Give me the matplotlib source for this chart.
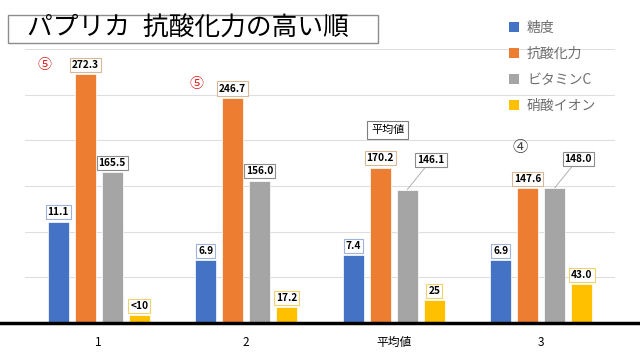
import matplotlib.pyplot as plt
from matplotlib.patches import Patch, Rectangle
import numpy as np

plt.rcParams['font.family'] = ['Noto Sans CJK JP', 'DejaVu Sans']

# ---- data (bar heights as drawn, plus the printed labels) ----
groups = ['1', '2', '平均値', '3']
series = ['糖度', '抗酸化力', 'ビタミンC', '硝酸イオン']
sugar = [111, 69, 74, 69]              # drawn at x10 scale in the original
antiox = [272.3, 246.7, 170.2, 147.6]
vitc = [165.5, 156.0, 146.1, 148.0]
nitrate = [9, 17.2, 25, 43.0]

sugar_lbl = ['11.1', '6.9', '7.4', '6.9']
antiox_lbl = ['272.3', '246.7', '170.2', '147.6']
vitc_lbl = ['165.5', '156.0', '146.1', '148.0']
nitrate_lbl = ['<10', '17.2', '25', '43.0']

colors = ['#4472C4', '#ED7D31', '#A5A5A5', '#FFC000']
box_edges = ['#9DB3D9', '#D9B896', '#8C8C8C', '#F2D36B']

# ---- figure ----
fig = plt.figure(figsize=(6.4, 3.6), dpi=100)
ax = fig.add_axes([25 / 640, 37 / 360, 590 / 640, 274 / 360])
ax.set_xlim(-0.5, 3.5)
ax.set_ylim(0, 300)

x = np.arange(len(groups))
pitch = 0.183
width = 0.143
all_vals = [sugar, antiox, vitc, nitrate]
all_lbls = [sugar_lbl, antiox_lbl, vitc_lbl, nitrate_lbl]

for k, (vals, lbls) in enumerate(zip(all_vals, all_lbls)):
    xs = x + (k - 1.5) * pitch
    ax.bar(xs, vals, width, color=colors[k], edgecolor='white', linewidth=0.5,
           label=series[k], zorder=2)
    for i, (xi, v, t) in enumerate(zip(xs, vals, lbls)):
        bbox = dict(boxstyle='square,pad=0.2', fc='white', ec=box_edges[k], lw=0.8)
        if k == 2 and i >= 2:
            # leader-line labels on the last two grey bars
            ax.annotate(t, xy=(xi, v), xytext=(17, 21), textcoords='offset points',
                        ha='center', va='center', fontsize=7.3, fontweight='bold',
                        bbox=bbox, zorder=4,
                        arrowprops=dict(arrowstyle='-', color='#A5A5A5', lw=0.6,
                                        shrinkA=0, shrinkB=0))
        else:
            ax.annotate(t, xy=(xi, v), xytext=(0, 3), textcoords='offset points',
                        ha='center', va='bottom', fontsize=7.3, fontweight='bold',
                        bbox=bbox, zorder=4, annotation_clip=False)

# extra notes
ax.text(-0.366, 282, '⑤', color='#E02020', fontsize=10, ha='center', va='center')
ax.text(1 - 0.336, 262, '⑤', color='#E02020', fontsize=10, ha='center', va='center')
ax.text(3 - 0.14, 192, '④', color='#404040', fontsize=11, ha='center', va='center')
ax.text(2 - 0.04, 211, '平均値', fontsize=8, ha='center', va='center',
        bbox=dict(boxstyle='square,pad=0.35', fc='white', ec='#7F7F7F', lw=0.8))

# axes styling
ax.set_yticks(np.arange(50, 301, 50))
ax.set_yticklabels([])
ax.grid(axis='y', color='#DEDEDE', lw=0.8, zorder=0)
ax.set_axisbelow(True)
for s in ax.spines.values():
    s.set_visible(False)
ax.axhline(0, xmin=-25 / 590, xmax=625 / 590, color='black', lw=2.5,
           clip_on=False, zorder=3)
ax.set_xticks(x)
ax.set_xticklabels(groups, fontsize=8.5)
ax.tick_params(axis='both', length=0)
ax.tick_params(axis='x', pad=9)

# title box
fig.patches.append(Rectangle((8 / 640, 1 - 43 / 360), 370 / 640, 28 / 360,
                             transform=fig.transFigure, fc='white', ec='#8C8C8C',
                             lw=1, zorder=5))
fig.text(27 / 640, 1 - 29 / 360, 'パプリカ\u2002抗酸化力の高い順', fontsize=18.5,
         ha='left', va='center', zorder=6)

# legend
handles = [Patch(facecolor=c) for c in colors]
fig.legend(handles, series, loc='upper left', bbox_to_anchor=(502 / 640, 1 - 14 / 360),
           frameon=False, fontsize=10, labelcolor='#6E6E6E', handlelength=0.7,
           handleheight=0.7, handletextpad=0.6, labelspacing=0.87, borderpad=0)

fig.savefig('out.png', dpi=100)
